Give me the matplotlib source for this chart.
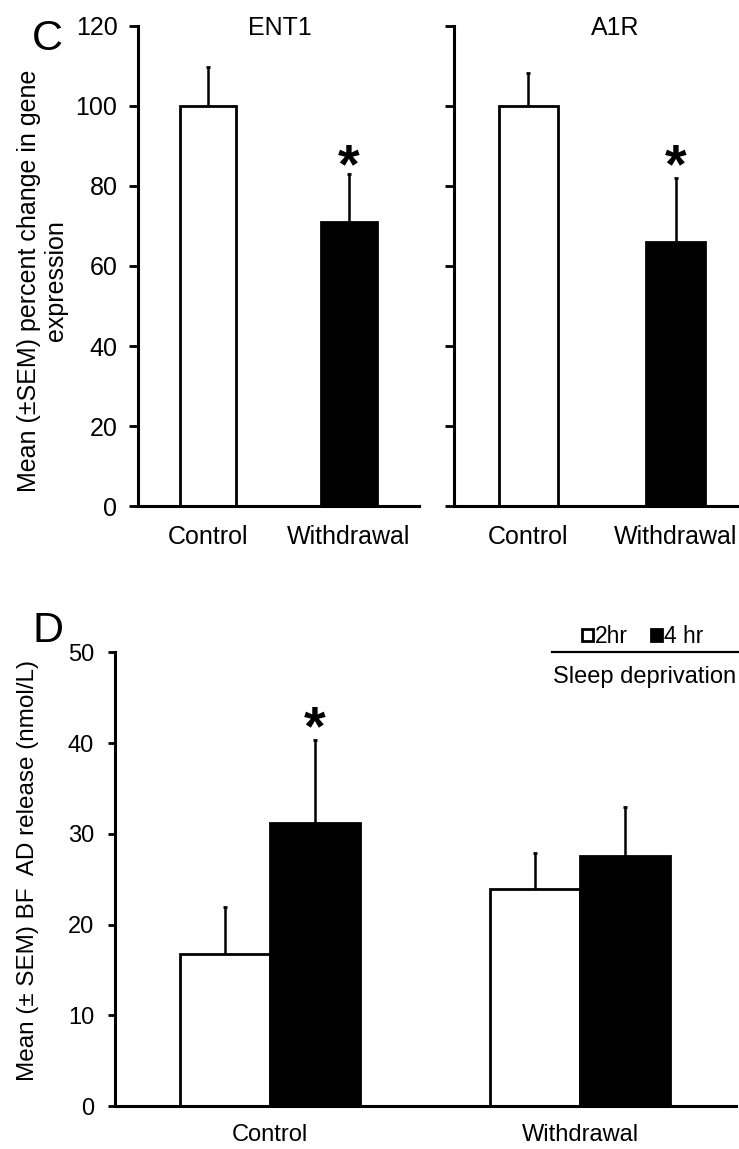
import matplotlib
matplotlib.use('Agg')
import matplotlib.pyplot as plt
from matplotlib.lines import Line2D
import numpy as np

plt.rcParams['font.family'] = ['Liberation Sans', 'DejaVu Sans']

# Panel C: gene expression (% of control)
groups = ['Control', 'Withdrawal']
ent1_mean = [100.0, 71.0]
ent1_sem = [9.8, 12.0]
a1r_mean = [100.0, 66.1]
a1r_sem = [8.3, 15.8]
c_star_y = [88.2, 88.1]   # asterisk centre over Withdrawal

# Panel D: BF AD release (nmol/L)
sd_2hr_mean = [16.8, 23.9]
sd_2hr_sem = [5.1, 4.0]
sd_4hr_mean = [31.2, 27.5]
sd_4hr_sem = [9.1, 5.5]
d_star_y = 43.1           # asterisk centre over Control 4 hr

AXLW = 2.2
EDGE = 2.0


def style_axis(ax, ticklen, pad, size):
    for s in ['top', 'right']:
        ax.spines[s].set_visible(False)
    for s in ['left', 'bottom']:
        ax.spines[s].set_linewidth(AXLW)
    ax.tick_params(axis='y', direction='out', length=ticklen, width=2.0,
                   pad=pad, labelsize=size)
    ax.tick_params(axis='x', length=0, labelsize=size)


def star(ax, x, y, size):
    # put the glyph centre at y (glyph sits about half an em above baseline)
    ax.annotate('*', xy=(x, y), xytext=(0, -0.52 * size), textcoords='offset points',
                ha='center', va='baseline', fontsize=size, fontweight='bold')


fig = plt.figure(figsize=(7.39, 11.49), dpi=100)

ax1 = fig.add_axes([0.1871, 0.5596, 0.3794, 0.4178])
ax2 = fig.add_axes([0.6149, 0.5596, 0.3995, 0.4178])

x = np.arange(len(groups))
for ax, mean, sem, title, tx in [(ax1, ent1_mean, ent1_sem, 'ENT1', 0.504),
                                 (ax2, a1r_mean, a1r_sem, 'A1R', 0.544)]:
    ax.bar(x, mean, width=0.4, color=['white', 'black'], edgecolor='black',
           linewidth=EDGE, zorder=2)
    ax.errorbar(x, mean, yerr=[np.zeros(len(sem)), sem], fmt='none', ecolor='black',
                elinewidth=1.8, capsize=1.5, capthick=2.0, zorder=1)
    ax.set_xlim(-0.5, 1.5)
    ax.set_ylim(0, 120)
    ax.set_yticks(np.arange(0, 121, 20))
    ax.set_xticks(x)
    ax.set_xticklabels(groups)
    style_axis(ax, 6.5, 8.5, 18)
    ax.tick_params(axis='x', pad=14)
    ax.text(tx, 0.982, title, transform=ax.transAxes, ha='center', va='baseline',
            fontsize=18)

ax2.tick_params(axis='y', labelleft=False)
star(ax1, 1, c_star_y[0], 40)
star(ax2, 1, c_star_y[1], 40)

fig.text(0.0575, 0.7557, 'Mean (±SEM) percent change in gene\nexpression', rotation=90,
         ha='center', va='center', multialignment='center', fontsize=18)
fig.text(0.0645, 0.9566, 'C', fontsize=31, ha='center', va='baseline')

# Panel D
ax3 = fig.add_axes([0.1556, 0.0374, 0.8397, 0.3949])
w = 0.29
b1 = ax3.bar(x - w / 2, sd_2hr_mean, width=w, color='white', edgecolor='black',
             linewidth=EDGE, zorder=2, label='2hr')
b2 = ax3.bar(x + w / 2, sd_4hr_mean, width=w, color='black', edgecolor='black',
             linewidth=EDGE, zorder=2, label='4 hr')
ax3.errorbar(x - w / 2, sd_2hr_mean, yerr=[np.zeros(2), sd_2hr_sem], fmt='none',
             ecolor='black', elinewidth=1.8, capsize=1.5, capthick=2.0, zorder=1)
ax3.errorbar(x + w / 2, sd_4hr_mean, yerr=[np.zeros(2), sd_4hr_sem], fmt='none',
             ecolor='black', elinewidth=1.8, capsize=1.5, capthick=2.0, zorder=1)
ax3.set_xlim(-0.5, 1.5)
ax3.set_ylim(0, 50)
ax3.set_yticks(np.arange(0, 51, 10))
ax3.set_xticks(x)
ax3.set_xticklabels(groups)
style_axis(ax3, 5.0, 10, 17)
ax3.tick_params(axis='x', pad=13)
star(ax3, x[0] + w / 2, d_star_y, 40)

fig.text(0.0379, 0.2428, 'Mean (± SEM) BF  AD release (nmol/L)', rotation=90,
         ha='center', va='center', fontsize=17.5)
fig.text(0.0645, 0.4413, 'D', fontsize=31, ha='center', va='baseline')

fig.legend(handles=[b1, b2], labels=['2hr', '4 hr'], loc='center',
           bbox_to_anchor=(0.870, 0.4459), ncol=2, frameon=False, fontsize=16.5,
           handlelength=0.46, handleheight=0.46, handletextpad=0.1,
           columnspacing=1.0, borderpad=0, borderaxespad=0)
fig.add_artist(Line2D([0.7465, 1.0], [0.4328, 0.4328], color='black', linewidth=1.6,
                      transform=fig.transFigure))
fig.text(0.7487, 0.4053, 'Sleep deprivation', ha='left', va='baseline', fontsize=17)

fig.savefig('out.png', dpi=100)
